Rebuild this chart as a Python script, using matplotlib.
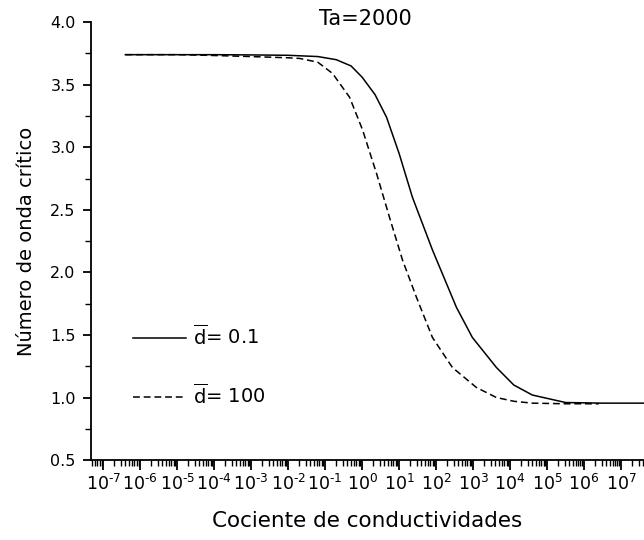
import numpy as np
import matplotlib.pyplot as plt
from matplotlib.ticker import LogLocator, MultipleLocator, FixedLocator, NullFormatter

plt.rcParams['font.family'] = 'DejaVu Sans'
plt.rcParams['mathtext.fontset'] = 'dejavusans'

exp_d01 = [-6.4, -5, -4, -3, -2, -1.2, -0.7, -0.3, 0.0, 0.35, 0.66, 1.0, 1.36, 1.9,
           2.55, 2.98, 3.63, 4.1, 4.6, 5.5, 6.5, 7.7]
k_d01 = [3.74, 3.74, 3.74, 3.738, 3.735, 3.725, 3.70, 3.65, 3.56, 3.42, 3.24, 2.95,
         2.60, 2.18, 1.72, 1.48, 1.24, 1.10, 1.02, 0.96, 0.955, 0.955]

exp_d100 = [-6.4, -5, -4.2, -3, -2, -1.69, -1.2, -0.8, -0.34, 0.01, 0.39, 0.74, 1.09,
            1.47, 1.9, 2.44, 3.09, 3.63, 4.1, 4.6, 5.5, 6.4]
k_d100 = [3.74, 3.74, 3.735, 3.725, 3.715, 3.71, 3.68, 3.59, 3.40, 3.14, 2.79, 2.44,
          2.10, 1.80, 1.48, 1.24, 1.08, 1.00, 0.97, 0.955, 0.95, 0.95]

x_d01 = 10.0 ** np.array(exp_d01)
x_d100 = 10.0 ** np.array(exp_d100)

decades = list(range(-7, 8))

fig = plt.figure(figsize=(6.44, 5.4), dpi=100)
ax = fig.add_axes([0.1413, 0.148, 0.8587, 0.811])

ax.plot(x_d01, k_d01, color='black', lw=1.1, label=r'$\overline{\mathrm{d}}$= 0.1')
ax.plot(x_d100, k_d100, color='black', lw=1.1, dashes=(4.5, 2.5),
        label=r'$\overline{\mathrm{d}}$= 100')

ax.set_xscale('log')
ax.set_xlim(10 ** -7.33, 10 ** 7.62)
ax.set_ylim(0.5, 4.0)

ax.spines['top'].set_visible(False)
ax.spines['right'].set_visible(False)
ax.spines['left'].set_linewidth(1.3)
ax.spines['bottom'].set_linewidth(1.3)

ax.xaxis.set_major_locator(FixedLocator([10.0 ** d for d in decades]))
ax.set_xticklabels([r'$10^{\text{%d}}$' % d for d in decades])
ax.xaxis.set_minor_locator(LogLocator(base=10, subs=np.arange(2, 10), numticks=100))
ax.xaxis.set_minor_formatter(NullFormatter())
ax.yaxis.set_major_locator(MultipleLocator(0.5))
ax.yaxis.set_minor_locator(MultipleLocator(0.25))
ax.yaxis.set_major_formatter(plt.FormatStrFormatter('%.1f'))

ax.tick_params(axis='x', which='major', direction='out', length=7, width=1.3,
               labelsize=12.5, pad=3)
ax.tick_params(axis='x', which='minor', direction='out', length=4, width=1.0)
ax.tick_params(axis='y', which='major', direction='out', length=6, width=1.3,
               labelsize=11.5, pad=5)
ax.tick_params(axis='y', which='minor', direction='out', length=4, width=1.0)

ax.set_xlabel('Cociente de conductividades', fontsize=15.5, labelpad=12)
ax.set_ylabel('Número de onda crítico', fontsize=14, labelpad=10)

ax.text(0.496, 1.007, 'Ta=2000', transform=ax.transAxes, ha='center', va='center',
        fontsize=15)

ax.legend(loc='lower left', bbox_to_anchor=(0.045, 0.08), frameon=False, fontsize=14,
          handlelength=2.7, handletextpad=0.35, labelspacing=1.75)

plt.savefig('out.png', dpi=100)
plt.close()
